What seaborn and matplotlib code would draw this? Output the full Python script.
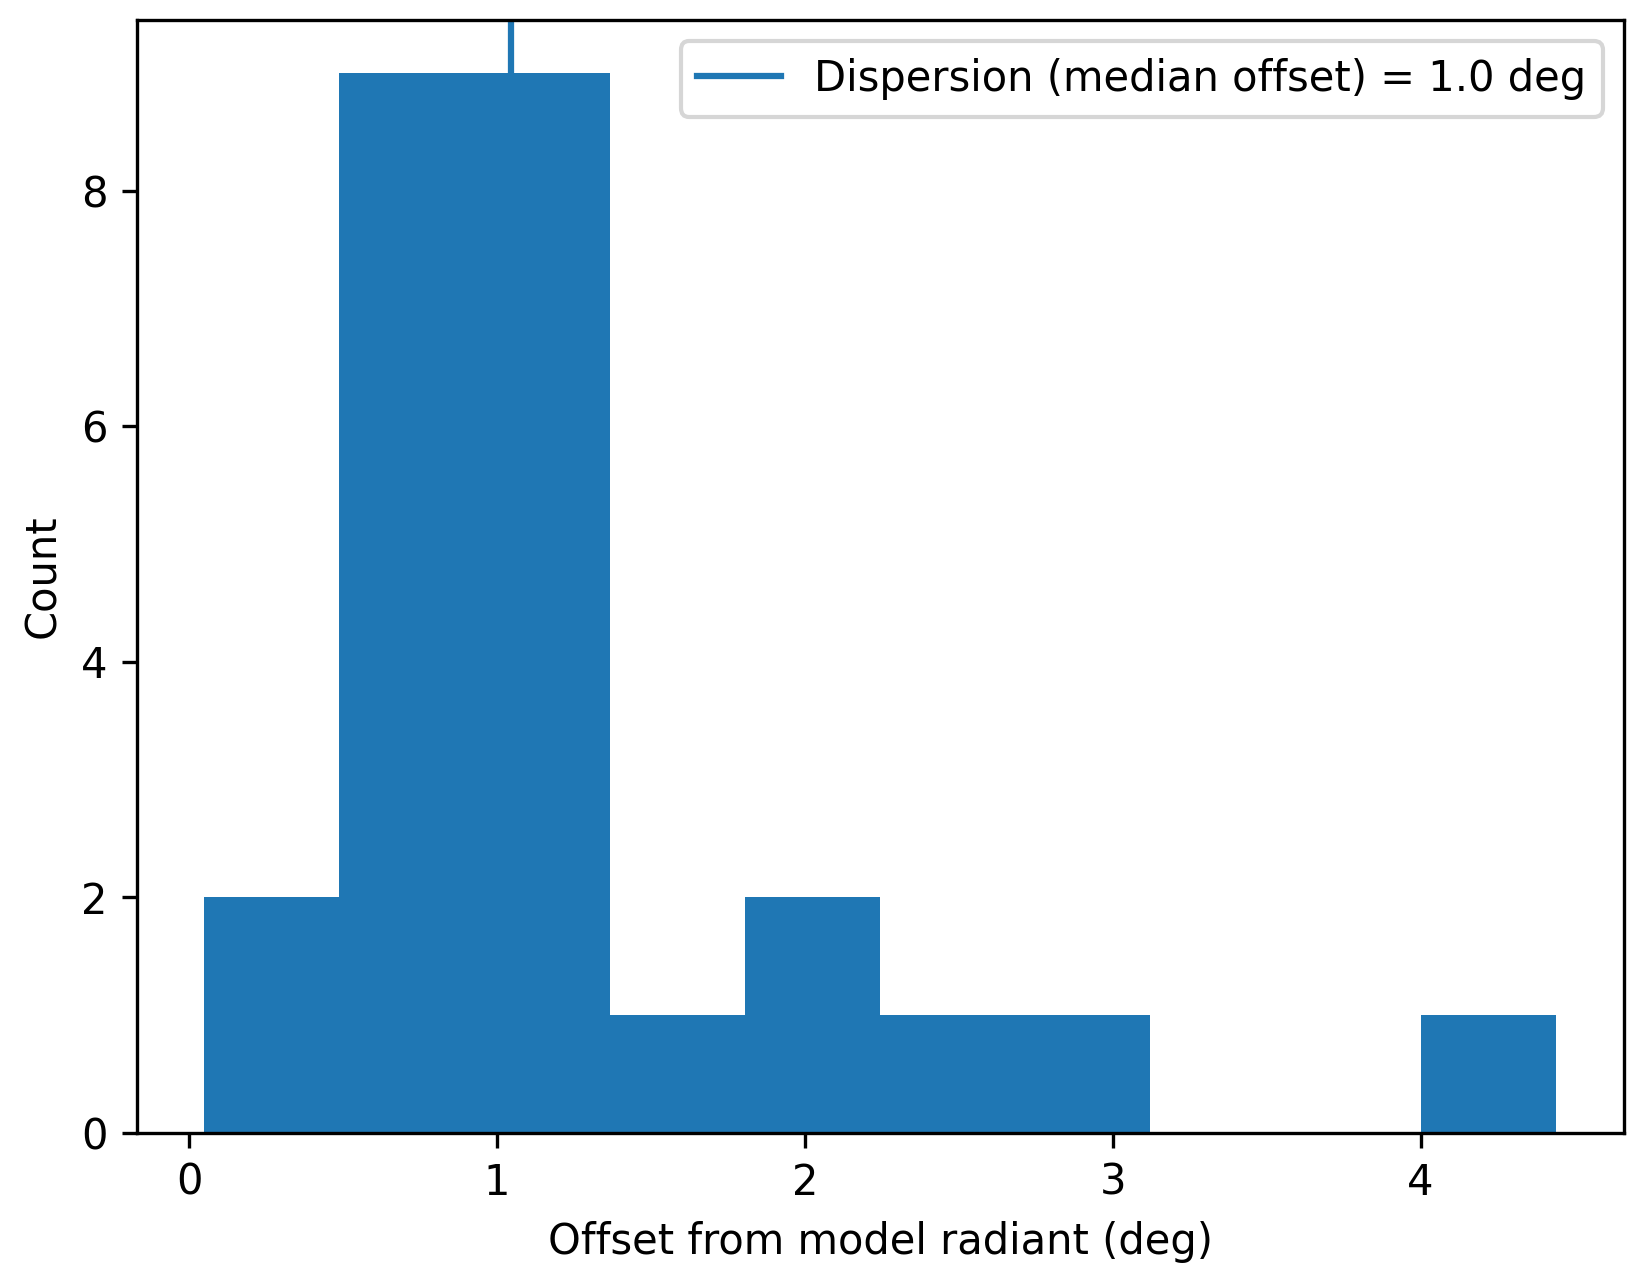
import numpy as np
import matplotlib
matplotlib.use("Agg")
import matplotlib.pyplot as plt
import seaborn as sns

# offsets (deg), 26 radiants
offsets = [0.048, 0.31,
           0.55, 0.60, 0.66, 0.71, 0.76, 0.80, 0.84, 0.88, 0.92,
           0.97, 1.01, 1.08, 1.13, 1.18, 1.22, 1.27, 1.31, 1.35,
           1.58,
           1.92, 2.10,
           2.45,
           2.90,
           4.44]
n_bins = 10
BLUE = "#1f77b4"

fig, ax = plt.subplots(figsize=(1645 / 300, 1277 / 300), dpi=300)
fig.subplots_adjust(left=0.083, right=0.987, top=0.984, bottom=0.113)

med = np.median(offsets)
ax.axvline(med, color=BLUE, zorder=0.5,
           label=f"Dispersion (median offset) = {med:.1f} deg")
sns.histplot(x=offsets, bins=n_bins, ax=ax, color=BLUE, alpha=1,
             linewidth=0, zorder=1)

ax.set_xlabel("Offset from model radiant (deg)")
ax.set_ylabel("Count")
ax.legend(loc="upper right")

plt.savefig("out.png", dpi=300)
plt.close()
